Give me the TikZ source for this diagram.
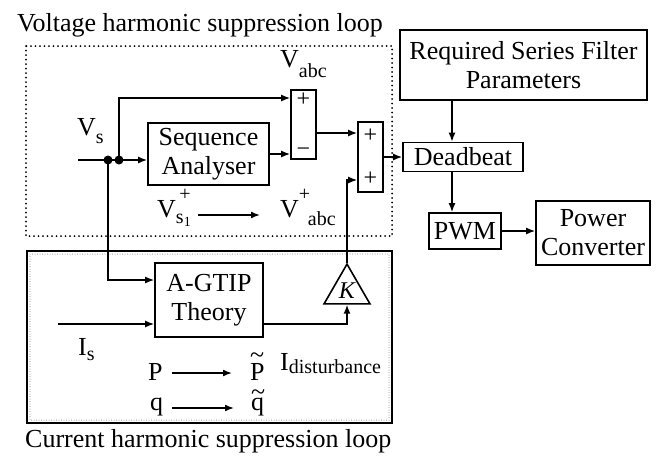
\documentclass[tikz,border=0pt]{standalone}
\usepackage{fontspec}
\setmainfont{Liberation Serif}
\usetikzlibrary{arrows.meta, shapes.geometric}

% lowered subscript and raised superscript, in text size
\newcommand{\lsub}[2][8pt]{\raisebox{-#1}{\fontsize{20}{20}\selectfont #2}}
\newcommand{\lsup}[1]{\raisebox{17pt}{\fontsize{20}{20}\selectfont #1}}
% wide tilde over a letter
\newcommand{\wtil}[2]{\rlap{\raisebox{#1}{\textasciitilde}}#2}

\begin{document}
\begin{tikzpicture}[x=1pt, y=-1pt,
      every node/.style={font=\fontsize{26}{29}\selectfont},
      block/.style={draw, line width=1.6pt, align=center, inner sep=2pt},
      sumbox/.style={draw, line width=1.6pt, minimum width=25pt, inner sep=0pt,
                     align=center, font=\fontsize{24}{24}\selectfont},
      wire/.style={line width=1.6pt},
      arr/.style={wire, -{Latex[length=9pt, width=7pt]}},
      junction/.style={circle, fill, minimum size=9pt, inner sep=0pt},
      lbl/.style={inner sep=0pt, anchor=base west}]

    \useasboundingbox (0,0) rectangle (659,458);

    % the two loops
    \draw[line width=2pt, line cap=round, dash pattern=on 0pt off 4.5pt] (26,46) rectangle (392,236);
    \draw[line width=1.6pt] (27,251) rectangle (392,423);
    \draw[gray, line width=1pt, line cap=round, dash pattern=on 0pt off 2.5pt] (30,254) rectangle (389,420);
    \node[lbl] (vtitle) at (17,31) {Voltage harmonic suppression loop};
    \node[lbl] (ctitle) at (25,447) {Current harmonic suppression loop};

    % blocks
    \node[block, minimum width=121pt, minimum height=62pt] (seq) at (208.5,154) {Sequence\\Analyser};
    \node[sumbox, minimum height=69pt] (sum1) at (303.5,124.5) {+\\[26pt]\textminus};
    \node[sumbox, minimum height=70pt] (sum2) at (370.5,157) {+\\[19pt]+};
    \node[block, minimum width=247pt, minimum height=70pt] (req) at (523.5,65) {Required Series Filter\\Parameters};
    \node[block, minimum width=120pt, minimum height=29pt, inner sep=1pt] (dead) at (463,157) {Deadbeat};
    \node[block, minimum width=72pt, minimum height=36pt, inner sep=1pt] (pwm) at (465,231) {PWM};
    \node[block, minimum width=114pt, minimum height=64pt, inner sep=1pt] (pc) at (593,233) {Power\\Converter};
    \node[block, minimum width=108pt, minimum height=74pt] (agtip) at (209,300) {A-GTIP\\Theory};
    \node[draw, line width=1.6pt, regular polygon, regular polygon sides=3, minimum size=53pt,
          inner sep=0pt, font=\fontsize{24}{24}\selectfont\itshape] (gain) at (347,290.6) {K};

    % inputs
    \coordinate (vin) at (78,160);
    \coordinate (iin) at (58,324);
    \node[junction] (j1) at (108,160) {};
    \node[junction] (j2) at (119,160) {};

    % voltage loop
    \draw[arr] (vin) -- (vin -| seq.west);
    \draw[arr] (j2.center) |- ([yshift=26.5pt]sum1.west);
    \draw[arr] (seq.east) -- (seq.east -| sum1.west);
    \draw[arr] ([yshift=-8.5pt]sum1.east) -- ([yshift=-8.5pt]sum1.east -| sum2.west);
    \draw[arr] (sum2.east) -- (sum2.east -| dead.west);
    % controller chain
    \draw[arr] ([xshift=-11pt]dead.north |- req.south) -- ([xshift=-11pt]dead.north);
    \draw[arr] ([xshift=-11pt]dead.south) -- ([xshift=-11pt]dead.south |- pwm.north);
    \draw[arr] (pwm.east) -- (pwm.east -| pc.west);
    % current loop
    \draw[arr] (j1.center) |- ([yshift=20pt]agtip.west);
    \draw[arr] (iin) -- (iin -| agtip.west);
    \draw[arr] ([yshift=-24pt]agtip.east) -| (gain.south);
    \draw[arr] (gain.north) |- ([yshift=-23pt]sum2.west);

    % signal names
    \node[lbl] (vabc) at (280,67) {V\lsub[10pt]{abc}};
    \node[lbl] (vs) at (77,135) {V\lsub[8pt]{s}};
    \node[lbl] (vsp) at (157,217) {V\lsub[6pt]{s}\raisebox{-9pt}{\fontsize{14}{14}\selectfont 1}\llap{\lsup{+}}};
    \node[lbl] (vabcp) at (280,217) {V\rlap{\lsup{+}}\hspace{9pt}\lsub[8pt]{abc}};
    \draw[arr, shorten <=7.5pt, shorten >=20pt] ([yshift=2pt]vsp.base east) -- ([yshift=2pt]vabcp.base west);
    \node[lbl] (is) at (78,355) {I\lsub[5pt]{s}};
    \node[lbl] (idist) at (280,370) {I\lsub[3pt]{disturbance}};
    \node[lbl] (p) at (148,380) {P};
    \node[lbl] (ptil) at (250,380) {\wtil{17pt}{P}};
    \draw[arr, shorten <=9pt, shorten >=18pt] ([yshift=7pt]p.base east) -- ([yshift=7pt]ptil.base west);
    \node[lbl] (q) at (150,410) {q};
    \node[lbl] (qtil) at (251,410) {\wtil{10pt}{q}};
    \draw[arr, shorten <=9pt, shorten >=17pt] ([yshift=2pt]q.base east) -- ([yshift=2pt]qtil.base west);
\end{tikzpicture}
\end{document}
